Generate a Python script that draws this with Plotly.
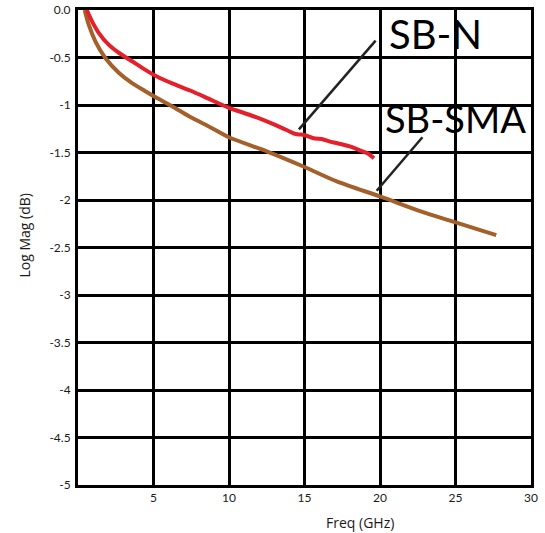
import plotly.graph_objects as go

# SB-N (red)
sbn_freq = [0.58, 0.93, 1.37, 2.03, 2.7, 3.58, 4.46, 5.23, 6.2, 7.47, 8.6, 10.0, 11.3,
            12.54, 13.5, 14.3, 14.6, 15.0, 15.6, 16.2, 16.7, 17.4, 18.1, 18.7, 19.2, 19.6]
sbn_mag = [0.0, -0.12, -0.24, -0.365, -0.45, -0.54, -0.63, -0.70, -0.77, -0.85, -0.93, -1.03, -1.10,
           -1.175, -1.24, -1.30, -1.31, -1.315, -1.35, -1.36, -1.385, -1.41, -1.44, -1.48, -1.51, -1.56]

# SB-SMA (brown)
sma_freq = [0.44, 0.71, 1.15, 1.81, 2.7, 3.58, 4.46, 5.23, 6.2, 7.47, 8.6, 10.0, 12.54,
            14.97, 17.18, 20.04, 22.7, 24.9, 27.7]
sma_mag = [0.0, -0.155, -0.33, -0.505, -0.66, -0.77, -0.855, -0.926, -1.01, -1.13, -1.22, -1.34, -1.49,
           -1.65, -1.807, -1.965, -2.12, -2.23, -2.37]

x_ticks = [5, 10, 15, 20, 25, 30]
y_ticks = [0, -0.5, -1, -1.5, -2, -2.5, -3, -3.5, -4, -4.5, -5]
y_tick_text = ["0.0", "-0.5", "-1", "-1.5", "-2", "-2.5", "-3", "-3.5", "-4", "-4.5", "-5"]

FONT = "Lato"
TITLE_FONT = "Open Sans"

fig = go.Figure()
fig.add_trace(go.Scatter(x=sma_freq, y=sma_mag, mode="lines", name="SB-SMA",
                         line=dict(color="#A3602A", width=4, shape="spline", smoothing=0.8)))
fig.add_trace(go.Scatter(x=sbn_freq, y=sbn_mag, mode="lines", name="SB-N",
                         line=dict(color="#E5202A", width=4, shape="spline", smoothing=0.5)))

fig.update_layout(
    width=545, height=533,
    margin=dict(l=78, r=14, t=10, b=48),
    paper_bgcolor="white", plot_bgcolor="white",
    showlegend=False,
    font=dict(family=FONT, size=12, color="#1a1a1a"),
    xaxis=dict(range=[0, 30], tickvals=x_ticks, showgrid=True, gridcolor="black", gridwidth=2.5,
               showline=True, linecolor="black", linewidth=3, mirror=True, zeroline=False,
               ticks="", tickfont=dict(size=12), automargin=False),
    yaxis=dict(range=[-5, 0], tickvals=y_ticks, ticktext=y_tick_text, showgrid=True,
               gridcolor="black", gridwidth=2.5, showline=True, linecolor="black", linewidth=3,
               mirror=True, zeroline=False, ticks="", ticklabelstandoff=2, tickfont=dict(size=12),
               automargin=False),
)

fig.add_shape(type="line", x0=19.71, y0=-0.323, x1=14.63, y1=-1.256, xref="x", yref="y",
              line=dict(color="#222222", width=2.5))
fig.add_shape(type="line", x0=22.81, y0=-1.34, x1=19.78, y1=-1.902, xref="x", yref="y",
              line=dict(color="#222222", width=2.5))

fig.add_annotation(x=20.44, y=-0.253, xref="x", yref="y", text="SB-N", showarrow=False,
                   xanchor="left", yanchor="middle", font=dict(family=FONT, size=40, color="black"))
fig.add_annotation(x=20.17, y=-1.137, xref="x", yref="y", text="SB-SMA", showarrow=False,
                   xanchor="left", yanchor="middle", font=dict(family=FONT, size=38, color="black"))

fig.add_annotation(x=(360 - 78) / 453, y=(485 - 522) / 475, xref="paper", yref="paper",
                   text="Freq (GHz)", showarrow=False, xanchor="center", yanchor="middle",
                   font=dict(family=TITLE_FONT, size=14, color="#1a1a1a"))
fig.add_annotation(x=(23.5 - 78) / 453, y=(485 - 236) / 475, xref="paper", yref="paper",
                   text="Log Mag (dB)", showarrow=False, textangle=-90, xanchor="center",
                   yanchor="middle", font=dict(family=TITLE_FONT, size=14, color="#1a1a1a"))

fig.write_html("out.html", config={"displayModeBar": False},
               post_script="document.body.style.margin='0';document.body.style.overflow='hidden';")
